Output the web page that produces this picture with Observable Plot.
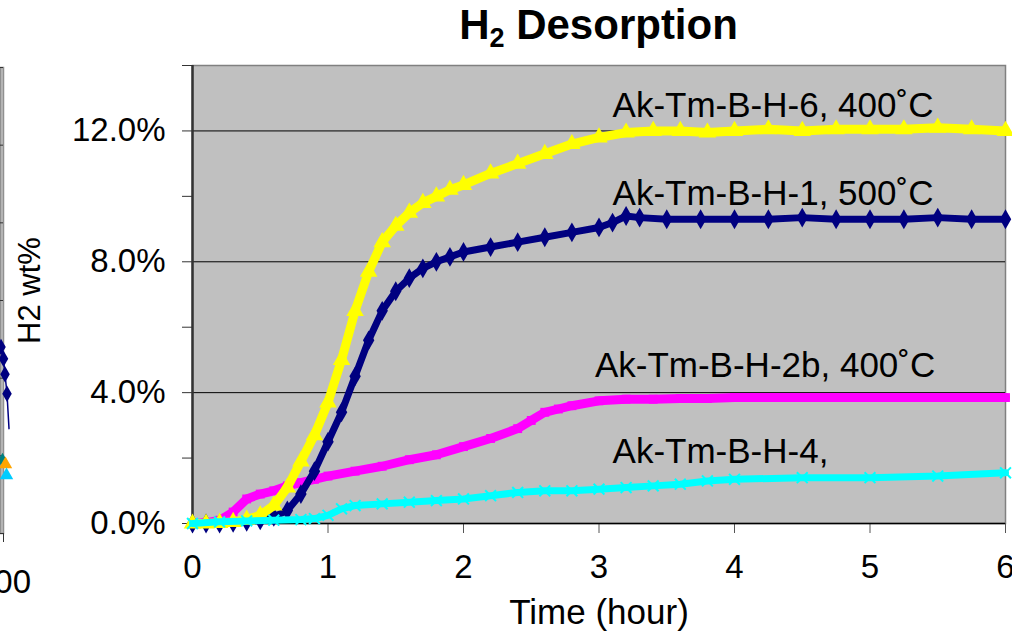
<!DOCTYPE html>
<html>
<head>
<meta charset="utf-8">
<script src="https://cdn.jsdelivr.net/npm/d3@7"></script>
<script src="https://cdn.jsdelivr.net/npm/@observablehq/plot@0.6"></script>
<style>
  html, body { margin: 0; padding: 0; background: white; overflow: hidden; }
  #wrap { position: relative; width: 1012px; height: 632px; }
  #wrap svg { position: absolute; top: 0; }
  #title { position: absolute; left: 192px; width: 813px; top: 4px; text-align: center;
           font: bold 42px "Liberation Sans", Arial, sans-serif; line-height: 42px; color: #000; }
  #title sub { font-size: 27px; vertical-align: -8px; line-height: 0; }
</style>
</head>
<body>
<div id="wrap"><div id="title">H<sub>2</sub> Desorption</div></div>
<script>
// ---------- data ----------
const seriesNames = ["Ak-Tm-B-H-2b, 400˚C", "Ak-Tm-B-H-1, 500˚C", "Ak-Tm-B-H-6, 400˚C", "Ak-Tm-B-H-4,"];

// Ak-Tm-B-H-6, 400˚C (yellow triangles)
const t6 = [0,0.1,0.2,0.3,0.4,0.5,0.6,0.7,0.8,0.9,1.0,1.1,1.2,1.3,1.4,1.5,1.6,1.7,1.8,1.9,2.0,2.2,2.4,2.6,2.8,3.0,3.2,3.4,3.6,3.8,4.0,4.25,4.5,4.75,5.0,5.25,5.5,5.75,6.0];
const v6 = [0,0,0.02,0.05,0.12,0.25,0.55,1.1,1.9,2.7,3.7,5.0,6.5,7.7,8.6,9.1,9.5,9.8,10.0,10.2,10.35,10.7,11.0,11.3,11.6,11.8,11.95,12.0,12.0,11.95,12.0,12.05,12.0,12.05,12.05,12.05,12.1,12.05,12.0];

// Ak-Tm-B-H-1, 500˚C (navy diamonds)
const t1 = [0,0.1,0.2,0.3,0.4,0.5,0.6,0.7,0.8,0.9,1.0,1.1,1.2,1.3,1.4,1.5,1.6,1.7,1.8,1.9,2.0,2.2,2.4,2.6,2.8,3.0,3.1,3.2,3.3,3.5,3.75,4.0,4.25,4.5,4.75,5.0,5.25,5.5,5.75,6.0];
const v1 = [0,0,0,0.02,0.05,0.1,0.2,0.4,0.9,1.6,2.5,3.4,4.5,5.6,6.5,7.1,7.5,7.8,8.0,8.15,8.3,8.45,8.6,8.75,8.9,9.05,9.2,9.4,9.35,9.3,9.3,9.3,9.3,9.35,9.3,9.3,9.3,9.35,9.3,9.3];

// Ak-Tm-B-H-2b, 400˚C (magenta squares)
const t2b = [0,0.1,0.2,0.3,0.4,0.5,0.6,0.7,0.8,0.9,1.0,1.2,1.4,1.6,1.8,2.0,2.2,2.4,2.5,2.6,2.7,2.8,3.0,3.2,3.4,3.6,3.8,4.0,4.5,5.0,5.5,6.0];
const v2b = [0,0.02,0.1,0.35,0.75,0.9,1.0,1.15,1.25,1.35,1.45,1.6,1.75,1.95,2.1,2.35,2.6,2.9,3.15,3.4,3.5,3.6,3.75,3.8,3.8,3.82,3.82,3.85,3.85,3.85,3.85,3.85];

// Ak-Tm-B-H-4 (cyan crosses)
const t4 = [0,0.2,0.4,0.6,0.8,0.9,1.0,1.1,1.2,1.4,1.6,1.8,2.0,2.2,2.4,2.6,2.8,3.0,3.2,3.4,3.6,3.8,4.0,4.5,5.0,5.5,6.0];
const v4 = [0,0.05,0.08,0.1,0.12,0.15,0.25,0.45,0.55,0.6,0.65,0.7,0.75,0.85,0.95,1.0,1.0,1.05,1.1,1.15,1.2,1.3,1.35,1.4,1.4,1.45,1.55];

const xTicks = [0,1,2,3,4,5,6];
const yTicks = [0,2,4,6,8,10,12,14];
const yLabelTicks = [0,4,8,12];

// fragment of the neighbouring chart visible at the left edge
const nbLineT = [597.5,600,601.5,603.5,605.5];
const nbLineV = [4.8,4.5,4.1,3.6,2.7];
const nbOtherT = [599,602,603];
const nbOtherV = [1.88,1.78,1.5];
const nbOtherC = ["#008080","#FFA500","#00CCFF"];
const nbYTicks = [0,2,4,6,8,10,12];

// ---------- build tables ----------
const mk = (t, v) => t.map((d, i) => ({t: d, v: v[i]}));
const d2b = mk(t2b, v2b), d1 = mk(t1, v1), d6 = mk(t6, v6), d4 = mk(t4, v4);

const font = '"Liberation Sans", Arial, sans-serif';

const main = Plot.plot({
  width: 1012, height: 632,
  marginLeft: 192, marginRight: 7, marginTop: 65, marginBottom: 109,
  style: {fontFamily: font, fontSize: "33px", background: "transparent", color: "black"},
  x: {domain: [0, 6]},
  y: {domain: [0, 14]},
  marks: [
    Plot.frame({fill: "#c0c0c0", stroke: "#808080", strokeWidth: 1.5}),
    Plot.ruleY([4, 8, 12], {stroke: "black", strokeWidth: 1}),
    Plot.axisY({ticks: yTicks, tickSize: 10, tickPadding: 17, label: null, stroke: "#333",
      tickFormat: d => yLabelTicks.includes(d) ? d.toFixed(1) + "%" : ""}),
    Plot.axisX({ticks: xTicks, tickSize: 10, tickPadding: 21, label: null, stroke: "#555",
      tickFormat: d => String(d)}),
    Plot.ruleY([0], {stroke: "black", strokeWidth: 1.5}),
    Plot.ruleX([0], {stroke: "#333", strokeWidth: 2.5}),
    // series
    Plot.line(d2b, {x: "t", y: "v", stroke: "#FF00FF", strokeWidth: 9}),
    Plot.dot(d2b, {x: "t", y: "v", fill: "#FF00FF", symbol: "square", r: 5}),
    Plot.line(d1, {x: "t", y: "v", stroke: "#000080", strokeWidth: 7}),
    Plot.dot(d1, {x: "t", y: "v", fill: "#000080", symbol: "diamond", r: 6}),
    Plot.line(d6, {x: "t", y: "v", stroke: "#FFFF00", strokeWidth: 9}),
    Plot.dot(d6, {x: "t", y: "v", fill: "#FFFF00", symbol: "triangle", r: 6.5}),
    Plot.line(d4, {x: "t", y: "v", stroke: "#00FFFF", strokeWidth: 7}),
    Plot.dot(d4, {x: "t", y: "v", stroke: "#00FFFF", symbol: "times", r: 5, strokeWidth: 2}),
    // series labels
    Plot.text([seriesNames[2]], {x: 3.1, y: 12.76, text: d => d, textAnchor: "start", fill: "black", fontSize: 35}),
    Plot.text([seriesNames[1]], {x: 3.1, y: 10.08, text: d => d, textAnchor: "start", fill: "black", fontSize: 35}),
    Plot.text([seriesNames[0]], {x: 2.97, y: 4.82, text: d => d, textAnchor: "start", fill: "black", fontSize: 35}),
    Plot.text([seriesNames[3]], {x: 3.1, y: 2.2, text: d => d, textAnchor: "start", fill: "black", fontSize: 35}),
    // axis titles
    Plot.text(["Time (hour)"], {frameAnchor: "bottom", lineAnchor: "middle", dy: 89, text: d => d, fill: "black", fontSize: 35}),
    Plot.text(["H2 wt%"], {frameAnchor: "left", dx: -162, dy: -4, rotate: -90, textAnchor: "middle", text: d => d, fill: "black", fontSize: 31})
  ]
});

const nb = Plot.plot({
  width: 40, height: 632,
  marginLeft: 0, marginRight: 37, marginTop: 67, marginBottom: 99,
  style: {fontFamily: font, fontSize: "33px", background: "transparent", color: "black", overflow: "visible"},
  x: {domain: [597, 600]},
  y: {domain: [0, 12], axis: null},
  marks: [
    Plot.frame({fill: "#c0c0c0", stroke: "#909090", strokeWidth: 1.5}),
    Plot.ruleY(nbYTicks, {x1: 597, x2: 600, stroke: "#333", strokeWidth: 1}),
    Plot.axisX({ticks: [600], tickSize: 9, tickPadding: 27, label: null, stroke: "#333", tickFormat: d => String(d)}),
    Plot.line(mk(nbLineT, nbLineV), {x: "t", y: "v", stroke: "#000080", strokeWidth: 1.5}),
    Plot.dot(mk(nbLineT, nbLineV).slice(0, 4), {x: "t", y: "v", fill: "#000080", symbol: "diamond", r: 5}),
    Plot.dot(nbOtherT.map((d, i) => ({t: d, v: nbOtherV[i], c: nbOtherC[i]})), {x: "t", y: "v", fill: d => d.c, symbol: "triangle", r: 5})
  ]
});

const wrap = document.getElementById("wrap");
main.style.left = "0px";
nb.style.left = "0px";
wrap.insertBefore(main, wrap.firstChild);
wrap.insertBefore(nb, wrap.firstChild.nextSibling);
</script>
</body>
</html>
